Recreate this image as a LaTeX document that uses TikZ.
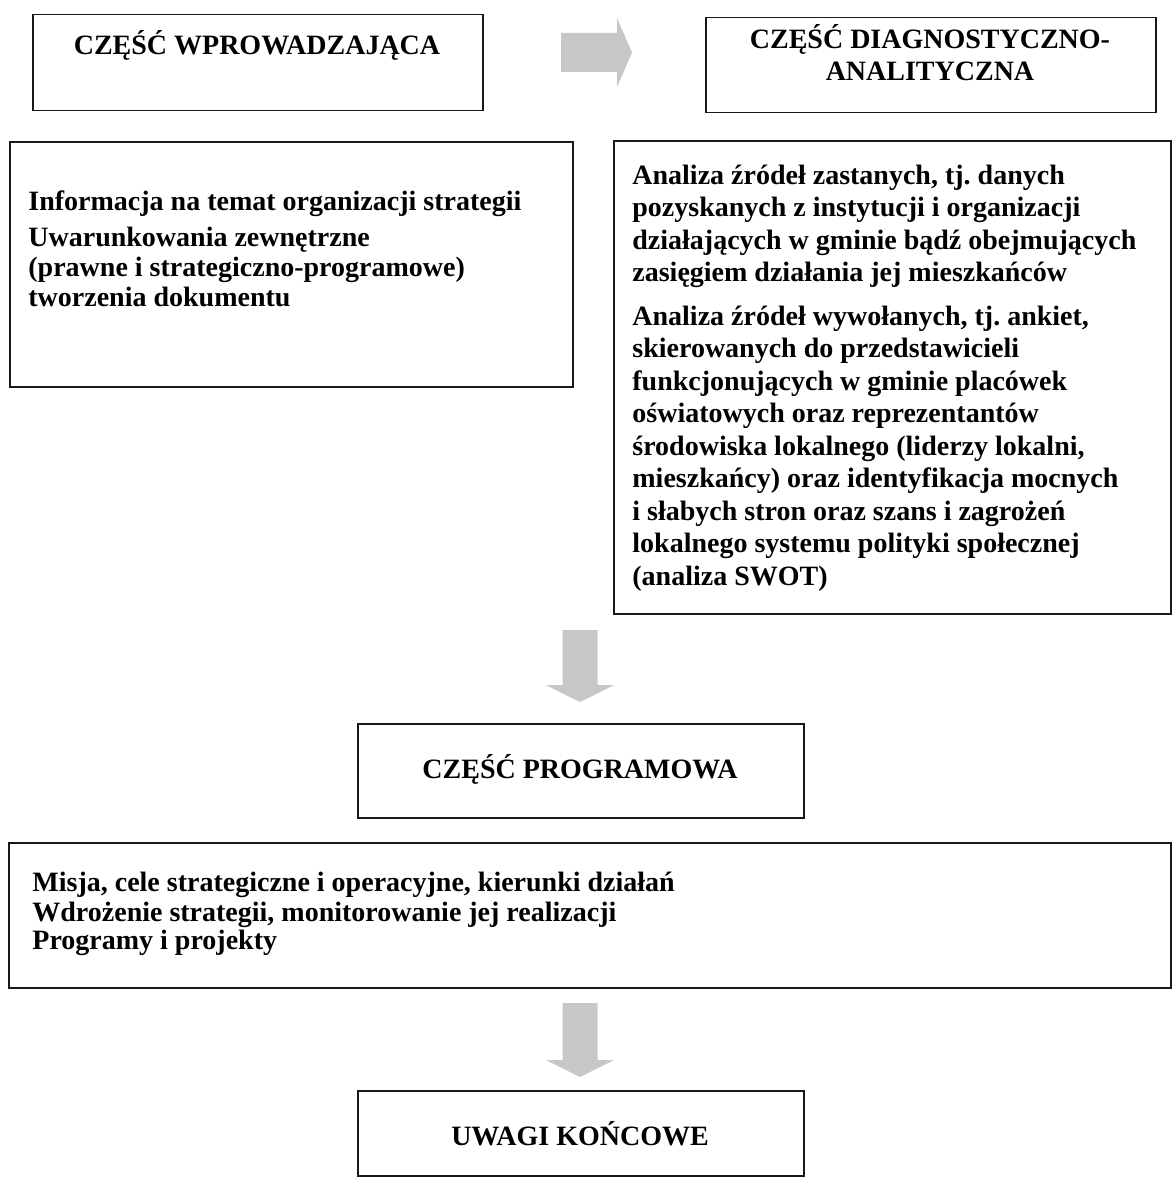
\documentclass[tikz,border=0pt]{standalone}
\usepackage{fontspec}
\setmainfont{Liberation Serif}
\frenchspacing
\begin{document}
\begin{tikzpicture}[x=0.5pt,y=-0.5pt,
  frame/.style={draw=black!90,line width=0.75pt,inner sep=0pt,anchor=north west},
  title/.style={font=\fontsize{14pt}{16pt}\selectfont\bfseries,inner sep=0pt,anchor=base},
  bodyA/.style={font=\fontsize{14pt}{15pt}\selectfont\bfseries\frenchspacing,inner sep=0pt,align=left,anchor=north west},
  bodyB/.style={font=\fontsize{14pt}{16.25pt}\selectfont\bfseries\frenchspacing,inner sep=0pt,align=left,anchor=north west},
  bodyC/.style={font=\fontsize{14pt}{13.75pt}\selectfont\bfseries\frenchspacing,inner sep=0pt,align=left,anchor=north west},
  blockarrow/.style={fill=black!22,draw=none}]
\useasboundingbox (0,0) rectangle (1172,1177);
% boxes
\node[frame,minimum width=225pt,minimum height=48pt] (box1) at (32,14) {};
\node[frame,minimum width=225pt,minimum height=47.5pt] (box2) at (705,17) {};
\node[frame,minimum width=281.5pt,minimum height=122.5pt] (box3) at (9,141) {};
\node[frame,minimum width=278.5pt,minimum height=236.5pt] (box4) at (613,140) {};
\node[frame,minimum width=223pt,minimum height=47pt] (box5) at (357,723) {};
\node[frame,minimum width=581pt,minimum height=72.5pt] (box6) at (8,842) {};
\node[frame,minimum width=223pt,minimum height=42.5pt] (box7) at (357,1090) {};
% block arrows
\fill[blockarrow] (561,33) -- (617,33) -- (617,18) -- (632,52.5) -- (617,87) -- (617,72) -- (561,72) -- cycle;
\fill[blockarrow] (562.5,630) -- (597.5,630) -- (597.5,685) -- (614,685) -- (580,702) -- (546,685) -- (562.5,685) -- cycle;
\fill[blockarrow] (562.5,1003) -- (597.5,1003) -- (597.5,1060) -- (614,1060) -- (580,1077) -- (546,1060) -- (562.5,1060) -- cycle;
% texts
\node[title] (t1) at (257,55) {CZĘŚĆ WPROWADZAJĄCA};
\node[title] (t2a) at (930,49) {CZĘŚĆ DIAGNOSTYCZNO-};
\node[title] (t2b) at (930,81) {ANALITYCZNA};
\node[bodyA] (t3) at (28,189) {\strut Informacja na temat organizacji strategii\\[3pt]
Uwarunkowania zewnętrzne\\
(prawne i strategiczno-programowe)\\
tworzenia dokumentu};
\node[bodyB] (t4) at (632,161) {\strut Analiza źródeł zastanych, tj. danych\\
pozyskanych z instytucji i organizacji\\
działających w gminie bądź obejmujących\\
zasięgiem działania jej mieszkańców\\[5.5pt]
Analiza źródeł wywołanych, tj. ankiet,\\
skierowanych do przedstawicieli\\
funkcjonujących w gminie placówek\\
oświatowych oraz reprezentantów\\
środowiska lokalnego (liderzy lokalni,\\
mieszkańcy) oraz identyfikacja mocnych\\
i słabych stron oraz szans i zagrożeń\\
lokalnego systemu polityki społecznej\\
(analiza SWOT)};
\node[title] (t5) at (580,778) {CZĘŚĆ PROGRAMOWA};
\node[bodyC] (t6) at (32,872) {\strut Misja, cele strategiczne i operacyjne, kierunki działań\\
Wdrożenie strategii, monitorowanie jej realizacji\\
Programy i projekty};
\node[title] (t7) at (580,1145) {UWAGI KOŃCOWE};
\end{tikzpicture}
\end{document}
